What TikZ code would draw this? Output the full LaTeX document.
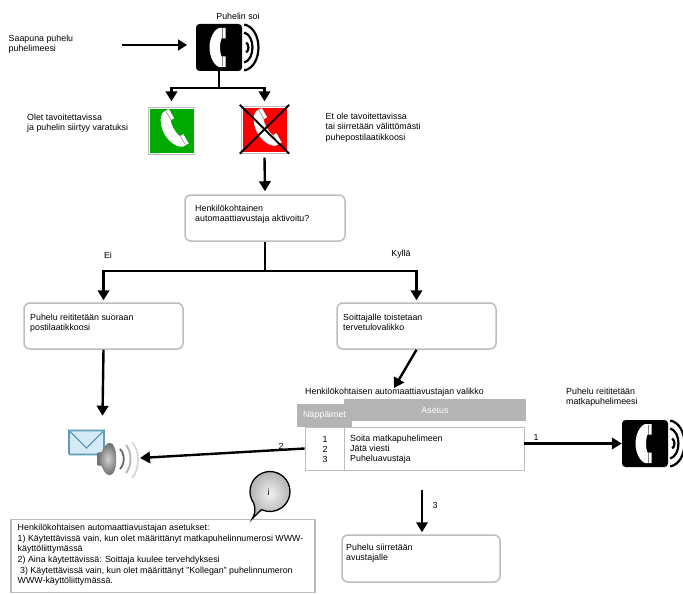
\documentclass[tikz,border=0pt]{standalone}
\usepackage{fontspec}
\setmainfont{Liberation Sans}
\usetikzlibrary{arrows.meta,calc}
\definecolor{boxgray}{HTML}{BDBDBD}
\definecolor{headgray}{HTML}{B4B4B4}
\definecolor{okgreen}{HTML}{00AA00}
\definecolor{envblue}{HTML}{5E9DB8}
\definecolor{envfill}{HTML}{D6EAF5}
\tikzset{
  x=1pt,y=-1pt,
  txt/.style={inner sep=0pt,align=left,font=\fontsize{8.85}{10.2}\selectfont,text=black},
  flowbox/.style={draw=boxgray,line width=1.5pt,rounded corners=6pt,fill=white,inner sep=0pt},
  iconbox/.style={draw=boxgray,line width=1.3pt,minimum size=46pt,inner sep=0pt},
  blackbox/.style={fill=black,rounded corners=3.5pt,minimum width=46pt,minimum height=47pt,inner sep=0pt},
  conn/.style={line width=2.4pt,draw=black},
  arr/.style={conn,-{Triangle[width=11.5pt,length=10pt]}},
  head/.style={fill=headgray,inner sep=0pt,text=white,font=\fontsize{8.85}{10}\selectfont},
  handsetline/.pic={
    \fill[white] (6.5,-19.5) -- (0,-19.5) .. controls (-6,-17) and (-9.5,-8) .. (-9.5,0)
      .. controls (-9.5,8) and (-6,17) .. (0,19.5) -- (6.5,19.5) -- (6.5,9) -- (2.5,9)
      .. controls (0.5,5) and (0.5,-5) .. (2.5,-9) -- (6.5,-9) -- cycle;
    \draw[gray,line width=0.5pt] (3,-19) -- (3,-9) (3,9) -- (3,19);
  },
  ringarcs/.pic={
    \draw[black,line width=2.2pt] (2,-23) .. controls (21,-19) and (21,19) .. (2,23);
    \draw[black,line width=2.2pt] (2,-15) .. controls (13,-12) and (13,12) .. (2,15);
    \draw[black,line width=2.2pt] (4,-5) .. controls (7,-3) and (7,3) .. (4,5);
  },
}
\begin{document}
\begin{tikzpicture}
\useasboundingbox (0,0) rectangle (683,594);
\fill[white] (0,0) rectangle (683,594);

% phone top
\node[blackbox] (phone) at (219,47.5) {};
\pic at (phone) {handsetline};
\pic at (phone.east) {ringarcs};

% icons
\node[iconbox,fill=okgreen] (green) at (171.5,131) {};
\draw[white,line width=.8pt] ($(green.north west)+(1.2,1.2)$) rectangle ($(green.south east)+(-1.2,-1.2)$);
\pic[rotate=30,scale=1.02] at ($(green)+(1.5,-1.5)$) {handsetline};
\node[iconbox,fill=red] (redbox) at (264.5,130) {};
\draw[white,line width=.8pt] ($(redbox.north west)+(1.2,1.2)$) rectangle ($(redbox.south east)+(-1.2,-1.2)$);
\pic[rotate=30,scale=1.02] at ($(redbox)+(1.5,-1.5)$) {handsetline};
\draw[black,line width=1.9pt] ($(redbox.north west)+(-1,-1.5)$) -- ($(redbox.south east)+(1,0)$);
\draw[black,line width=1.9pt] ($(redbox.north east)+(1,-1.5)$) -- ($(redbox.south west)+(-1,0)$);

% flow boxes
\node[flowbox,minimum width=160pt,minimum height=46pt] (q) at (265,218) {};
\node[flowbox,minimum width=159pt,minimum height=46pt] (lbox) at (103.5,326) {};
\node[flowbox,minimum width=159pt,minimum height=46pt] (rbox) at (416.5,326) {};
\node[flowbox,minimum width=158pt,minimum height=47pt] (bbox) at (421,558.5) {};

% table
\node[head,minimum width=182pt,minimum height=22pt] (asetus) at (435,410) {Asetus};
\node[head,minimum width=55pt,minimum height=23pt] (nappa) at (324.5,415.5) {Näppäimet};
\node[draw=boxgray,line width=.8pt,fill=white,minimum width=219pt,minimum height=43pt,inner sep=0pt] (table) at (414.5,448.5) {};
\draw[boxgray,line width=.8pt] (344.5,427) -- (344.5,470);
\node[txt,align=center] (keys) at (325,449.5) {1\\2\\3};
\node[txt,anchor=west] (opts) at (350,449.5) {Soita matkapuhelimeen\\Jätä viesti\\Puheluavustaja};

% phone right
\node[blackbox] (phone2) at (645,443.5) {};
\pic at (phone2) {handsetline};
\pic at (phone2.east) {ringarcs};

% envelope and speaker
\node[draw=envblue,fill=envfill,line width=1.7pt,rounded corners=1pt,minimum width=35pt,minimum height=24pt,inner sep=0pt] (env) at (86.5,442.5) {};
\draw[envblue,line width=1.4pt] (env.north west) -- (86.5,448) -- (env.north east);
\shade[inner color=gray!35,outer color=gray!85!black,draw=gray]
  (97.5,453) -- (97.5,465) -- (102,466) .. controls (104,472) and (107,475) .. (110,475)
  .. controls (118,475) and (118,443) .. (110,443) .. controls (107,443) and (104,447) .. (102,452) -- cycle;
\draw[gray!80!black,line width=1.8pt] (120,449) .. controls (125,454) and (125,464) .. (120,469);
\draw[gray!60,line width=1.8pt] (126,445) .. controls (132,452) and (132,466) .. (126,473);
\draw[gray!30,line width=1.8pt] (132,442) .. controls (140,450) and (140,470) .. (132,478);
\coordinate (spk) at (140,458);

% note
\node[draw=boxgray,line width=1.3pt,fill=white,minimum width=304pt,minimum height=73pt,inner sep=0pt] (note) at (163,556) {};
\shade[draw=black,line width=1.3pt,inner color=gray!12,outer color=gray!65]
  (252,519) .. controls (255,514) and (256,510) .. (253.6,503)
  arc[start angle=215,end angle=-115,radius=20pt]
  .. controls (259,512) and (256,515) .. (252,519) -- cycle;
\node[txt] (inote) at (268.5,492) {i};

% texts
\node[txt,anchor=north west] (t1) at (8.5,34.5) {Saapuna puhelu\\puhelimeesi};
\node[txt] (t2) at (238,16) {Puhelin soi};
\node[txt,anchor=north west] (t3) at (27,114) {Olet tavoitettavissa\\ja puhelin siirtyy varatuksi};
\node[txt,anchor=north west] (t4) at (325.5,113) {Et ole tavoitettavissa\\tai siirretään välittömästi\\puhepostilaatikkoosi};
\node[txt,anchor=north west] (t5) at (195,205) {Henkilökohtainen\\automaattiavustaja aktivoitu?};
\node[txt] (ei) at (108,255) {Ei};
\node[txt] (kylla) at (401,254) {Kyllä};
\node[txt,anchor=north west] (t6) at (30,314) {Puhelu reititetään suoraan\\postilaatikkoosi};
\node[txt,anchor=north west] (t7) at (343,314) {Soittajalle toistetaan\\tervetulovalikko};
\node[txt,anchor=west] (t8) at (305,392) {Henkilökohtaisen automaattiavustajan valikko};
\node[txt,anchor=north west] (t9) at (566,388) {Puhelu reititetään\\matkapuhelimeesi};
\node[txt,anchor=north west] (t10) at (346,544) {Puhelu siirretään\\avustajalle};
\node[txt,anchor=north west,font=\fontsize{8.85}{10.6}\selectfont] (t11) at (17.5,524) {Henkilökohtaisen automaattiavustajan asetukset:\\
1) Käytettävissä vain, kun olet määrittänyt matkapuhelinnumerosi WWW-\\
käyttöliittymässä\\
2) Aina käytettävissä: Soittaja kuulee tervehdyksesi\\
\ 3) Käytettävissä vain, kun olet määrittänyt "Kollegan" puhelinnumeron\\
WWW-käyttöliittymässä.};
\node[txt] (l1) at (536,437) {1};
\node[txt] (l2) at (281,446) {2};
\node[txt] (l3) at (435,505) {3};

% connectors
\coordinate (in0) at (122,45);
\coordinate (in1) at (187,45);
\draw[line width=1.8pt,-{Triangle[width=11pt,length=9pt]}] (in0) -- (in1);
\coordinate (j1) at (219,88);
\draw[conn] (phone.south) -- (j1);
\draw[arr] (j1) -| ($(green.north)+(0,-6)$);
\draw[arr] (j1) -| ($(redbox.north)+(0,-5)$);
\draw[arr] ($(redbox.south)+(0,4)$) -- ($(q.north)+(0,-3)$);
\coordinate (j2) at (265,271);
\draw[conn] (q.south) -- (j2);
\draw[arr] (j2) -| ($(lbox.north)+(0,-2)$);
\draw[arr] (j2) -| ($(rbox.north)+(0,-2)$);
\draw[arr] (lbox.south) -- ++(-1,66);
\draw[arr] (rbox.south) -- (394,388);
\draw[arr] (table.east |- phone2.west) -- (phone2.west);
\draw[arr] (table.west) -- (spk);
\coordinate (j3) at (422,490);
\draw[arr] (j3) -- ($(bbox.north)+(1,-2)$);
\end{tikzpicture}
\end{document}
